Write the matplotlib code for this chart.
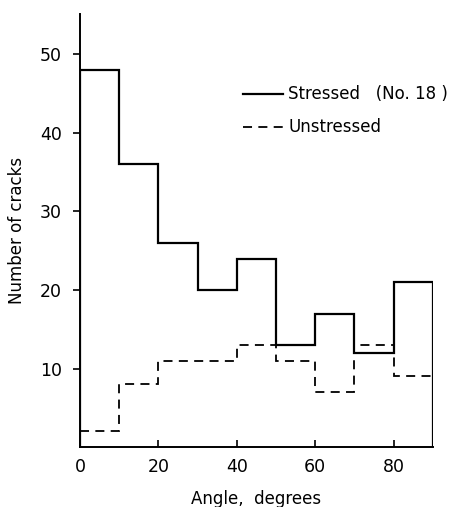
import numpy as np
import matplotlib
matplotlib.use("Agg")
import matplotlib.pyplot as plt
from matplotlib import rcParams

rcParams['font.family'] = ['DejaVu Sans']
rcParams['xtick.direction'] = 'in'
rcParams['ytick.direction'] = 'out'

bin_edges = [0, 10, 20, 30, 40, 50, 60, 70, 80, 90]
stressed = [48, 36, 26, 20, 24, 13, 17, 12, 21]    # Stressed (No. 18)
unstressed = [2, 8, 11, 11, 13, 11, 7, 13, 9]      # Unstressed

x_ticks = [0, 20, 40, 60, 80]
y_ticks = [10, 20, 30, 40, 50]

fig = plt.figure(figsize=(4.65, 5.07), dpi=100)
ax = fig.add_axes([0.172, 0.118, 0.759, 0.854])

ax.stairs(stressed, bin_edges, baseline=0, color='black', linewidth=1.6,
          label="Stressed   (No. 18 )")
ax.stairs(unstressed, bin_edges, baseline=None, color='black', linewidth=1.3,
          linestyle=(0, (5, 3.5)), label="Unstressed")

ax.set_xlim(0, 90)
ax.set_ylim(0, 55.1)
ax.set_xticks(x_ticks)
ax.set_yticks(y_ticks)
ax.tick_params(axis='x', length=5, width=1.2, labelsize=12.5, pad=8)
ax.tick_params(axis='y', length=5, width=1.2, labelsize=12.5, pad=8)

for s in ['top', 'right']:
    ax.spines[s].set_visible(False)
for s in ['left', 'bottom']:
    ax.spines[s].set_linewidth(1.4)

ax.set_xlabel("Angle,  degrees", fontsize=12, labelpad=10)
ax.set_ylabel("Number of cracks", fontsize=12, labelpad=10)

ax.legend(loc='upper left', bbox_to_anchor=(0.42, 0.87), frameon=False,
          fontsize=12, handlelength=2.4, handletextpad=0.3, labelspacing=0.9)

fig.savefig("out.png", dpi=100)
